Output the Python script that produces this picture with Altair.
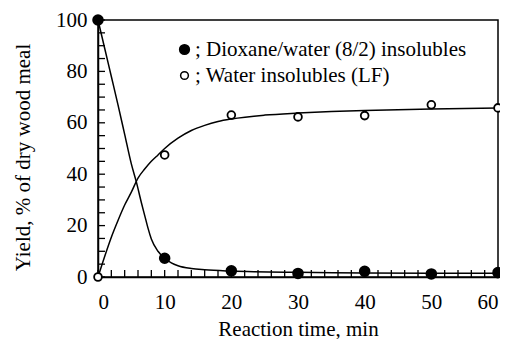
import altair as alt
import pandas as pd

# Measured points
time_pts = [0, 10, 20, 30, 40, 50, 60]
dioxane_pts = [100, 7.3, 2.4, 1.4, 2.2, 1.2, 1.7]
water_pts = [0, 47.5, 63, 62.3, 62.8, 67, 65.8]

# Fitted curves
curve_t_dioxane = [0, 1, 2, 3, 4, 5, 5.75, 6.5, 7, 7.5, 8, 9, 10, 11, 12, 14, 16, 20, 30, 40, 50, 60]
curve_dioxane = [100, 89, 78, 67, 55.5, 44, 37, 29, 24, 19, 14.8, 10, 7.3, 5.5, 4.4, 3.3, 2.8, 2.3, 1.8, 1.6, 1.5, 1.5]
curve_t_water = [0, 1, 2, 3, 4, 5, 6, 7, 8, 9, 10, 12, 14, 16, 18, 20, 25, 30, 35, 40, 50, 60]
curve_water = [0, 8, 15.5, 22, 28, 33, 38.5, 42, 45, 47.5, 50, 54, 57, 59, 60.5, 61.5, 63, 63.8, 64.4, 64.8, 65.4, 65.8]

x_minor_ticks = list(range(0, 61, 2))
y_minor_ticks = list(range(0, 101, 5))
x_tick_labels = [0, 10, 20, 30, 40, 50, 60]
y_tick_labels = [0, 20, 40, 60, 80, 100]

series = ["; Dioxane/water (8/2) insolubles", "; Water insolubles (LF)"]

FONT = "Liberation Serif, Times New Roman, serif"
FS = 21
W, H = 400, 257

pts = pd.DataFrame(
    {"t": time_pts * 2,
     "v": dioxane_pts + water_pts,
     "s": [series[0]] * len(time_pts) + [series[1]] * len(time_pts)}
)
curves = pd.DataFrame(
    {"t": curve_t_dioxane + curve_t_water,
     "v": curve_dioxane + curve_water,
     "s": [series[0]] * len(curve_t_dioxane) + [series[1]] * len(curve_t_water)}
)

xscale = alt.Scale(domain=[0, 60], nice=False, zero=False)
yscale = alt.Scale(domain=[0, 100], nice=False, zero=False)

xaxis = alt.Axis(values=x_tick_labels, title="Reaction time, min", ticks=False, tickSize=0,
                 labelPadding=31, labelBaseline="alphabetic", titleY=58,
                 titleBaseline="alphabetic", grid=False,
                 labelFont=FONT, labelFontSize=FS, labelColor="black",
                 titleFont=FONT, titleFontSize=FS, titleColor="black", titleFontWeight="normal",
                 domainColor="black", domainWidth=1.5)
yaxis = alt.Axis(values=y_tick_labels, title="Yield, % of dry wood meal", ticks=False,
                 tickSize=0, labelPadding=11, grid=False, titleX=-65, titleY=137,
                 labelFont=FONT, labelFontSize=FS, labelColor="black",
                 titleFont=FONT, titleFontSize=FS, titleColor="black", titleFontWeight="normal",
                 domainColor="black", domainWidth=1.5)

lines = alt.Chart(curves).mark_line(color="black", strokeWidth=1.5, interpolate="monotone").encode(
    x=alt.X("t:Q", scale=xscale, axis=xaxis),
    y=alt.Y("v:Q", scale=yscale, axis=yaxis),
    detail="s:N",
)

xt = alt.Chart(pd.DataFrame({"t": x_minor_ticks})).mark_rule(color="black", strokeWidth=1.3).encode(
    x=alt.X("t:Q", scale=xscale),
    y=alt.value(H),
    y2=alt.value(H - 7),
)
yt = alt.Chart(pd.DataFrame({"v": y_minor_ticks})).mark_rule(color="black", strokeWidth=1.3).encode(
    y=alt.Y("v:Q", scale=yscale),
    x=alt.value(0),
    x2=alt.value(7),
)

points = alt.Chart(pts).mark_point(filled=True, stroke="black", strokeWidth=1.8, opacity=1).encode(
    x=alt.X("t:Q", scale=xscale),
    y=alt.Y("v:Q", scale=yscale),
    fill=alt.Fill("s:N", scale=alt.Scale(domain=series, range=["black", "white"]),
                  legend=alt.Legend(title=None, orient="none", legendX=76, legendY=19,
                                    labelFont=FONT, labelFontSize=FS, labelOffset=0,
                                    labelColor="black",
                                    symbolStrokeColor="black", symbolStrokeWidth=1.5,
                                    symbolType="circle", rowPadding=4, padding=0,
                                    labelLimit=400)),
    size=alt.Size("s:N", scale=alt.Scale(domain=series, range=[95, 60])),
)

chart = alt.layer(lines, xt, yt, points).properties(
    width=W, height=H,
    background="white",
    autosize=alt.AutoSizeParams(type="none"),
    padding={"left": 90, "top": 12, "right": 2, "bottom": 62},
).configure_view(stroke="black", strokeWidth=1.5)

chart.save("out.html", embed_options={"renderer": "svg", "actions": False})
